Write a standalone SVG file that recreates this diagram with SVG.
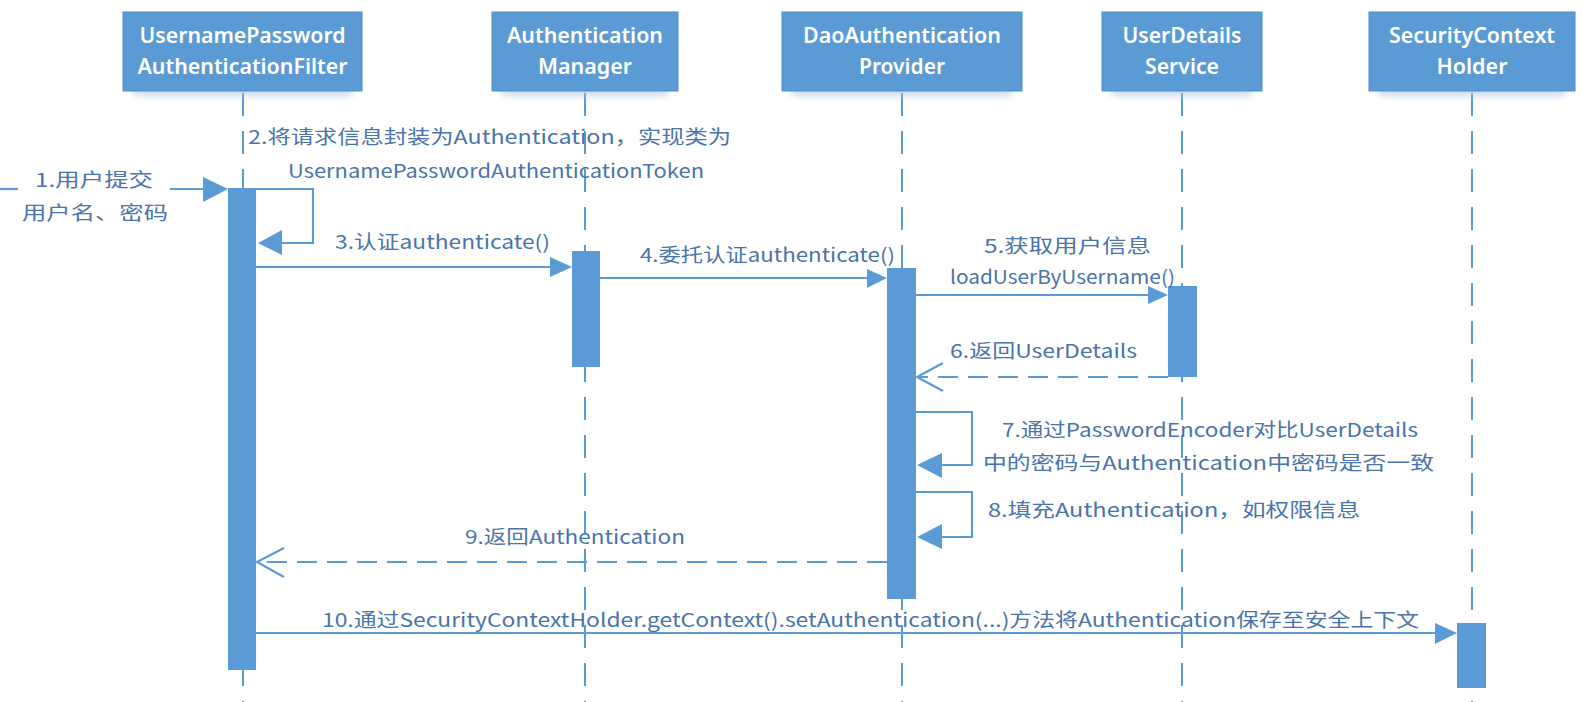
<svg xmlns="http://www.w3.org/2000/svg" width="1583" height="702" viewBox="0 0 1583 702">
<defs>
<style>
.box{fill:#5B9BD5;stroke:#4F8CC6;stroke-width:1}
.shadow{fill:#9DC3E6;opacity:0.55}
.hdr{font-family:"Noto Sans","Liberation Sans",sans-serif;font-size:21px;font-weight:600;fill:#ffffff;text-anchor:middle}
.life{stroke:#5B9BD5;stroke-width:2;stroke-dasharray:23 15;fill:none}
.bar{fill:#5B9BD5}
.ln{stroke:#5B9BD5;stroke-width:2.2;fill:none}
.ret{stroke:#5B9BD5;stroke-width:2.2;fill:none;stroke-dasharray:20 10}
.head{fill:#5B9BD5}
.open{stroke:#5B9BD5;stroke-width:2.2;fill:none}
.lbl{font-family:"Noto Sans CJK SC","Noto Sans",sans-serif;font-size:19px;fill:#4A74AA}
</style>
<filter id="blur" x="-20%" y="-50%" width="140%" height="200%">
<feGaussianBlur stdDeviation="3"/>
</filter>
</defs>
<rect width="1583" height="702" fill="#ffffff"/>

<g id="lifelines">
<line class="life" x1="243" y1="93" x2="243" y2="702"/>
<line class="life" x1="585" y1="93" x2="585" y2="702"/>
<line class="life" x1="902" y1="93" x2="902" y2="702"/>
<line class="life" x1="1182" y1="93" x2="1182" y2="702"/>
<line class="life" x1="1472" y1="93" x2="1472" y2="702"/>
</g>

<g id="node-filter">
<rect class="shadow" x="133" y="86" width="219" height="10" filter="url(#blur)"/>
<rect class="box" x="123" y="12" width="239" height="79"/>
<text class="hdr" x="242.5" y="43" textLength="206" lengthAdjust="spacingAndGlyphs">UsernamePassword</text>
<text class="hdr" x="242.5" y="74" textLength="210" lengthAdjust="spacingAndGlyphs">AuthenticationFilter</text>
<rect class="bar" x="228" y="188" width="28" height="482"/>
</g>

<g id="node-manager">
<rect class="shadow" x="502" y="86" width="166" height="10" filter="url(#blur)"/>
<rect class="box" x="492" y="12" width="186" height="79"/>
<text class="hdr" x="585" y="43" textLength="156" lengthAdjust="spacingAndGlyphs">Authentication</text>
<text class="hdr" x="585" y="74" textLength="94" lengthAdjust="spacingAndGlyphs">Manager</text>
<rect class="bar" x="572" y="251" width="28" height="116"/>
</g>

<g id="node-provider">
<rect class="shadow" x="792" y="86" width="220" height="10" filter="url(#blur)"/>
<rect class="box" x="782" y="12" width="240" height="79"/>
<text class="hdr" x="902" y="43" textLength="198" lengthAdjust="spacingAndGlyphs">DaoAuthentication</text>
<text class="hdr" x="902" y="74" textLength="86" lengthAdjust="spacingAndGlyphs">Provider</text>
<rect class="bar" x="887" y="268" width="29" height="331"/>
</g>

<g id="node-uds">
<rect class="shadow" x="1112" y="86" width="140" height="10" filter="url(#blur)"/>
<rect class="box" x="1102" y="12" width="160" height="79"/>
<text class="hdr" x="1182" y="43" textLength="119" lengthAdjust="spacingAndGlyphs">UserDetails</text>
<text class="hdr" x="1182" y="74" textLength="74" lengthAdjust="spacingAndGlyphs">Service</text>
<rect class="bar" x="1168" y="286" width="29" height="91"/>
</g>

<g id="node-sch">
<rect class="shadow" x="1379" y="86" width="186" height="10" filter="url(#blur)"/>
<rect class="box" x="1369" y="12" width="206" height="79"/>
<text class="hdr" x="1472" y="43" textLength="166" lengthAdjust="spacingAndGlyphs">SecurityContext</text>
<text class="hdr" x="1472" y="74" textLength="71" lengthAdjust="spacingAndGlyphs">Holder</text>
<rect class="bar" x="1457" y="623" width="29" height="65"/>
</g>

<g id="connectors">
<!-- 1 -->
<line class="ln" x1="0" y1="189" x2="18" y2="189"/>
<line class="ln" x1="170" y1="189" x2="205" y2="189"/>
<polygon class="head" points="203,177 228,189 203,202"/>
<!-- 2 self -->
<polyline class="ln" points="256,189 313,189 313,243 280,243"/>
<polygon class="head" points="258,243 282,230 282,255"/>
<!-- 3 -->
<line class="ln" x1="256" y1="267" x2="552" y2="267"/>
<polygon class="head" points="550,257 572,267 550,277"/>
<!-- 4 -->
<line class="ln" x1="600" y1="278" x2="869" y2="278"/>
<polygon class="head" points="867,269 887,278 867,288"/>
<!-- 5 -->
<line class="ln" x1="916" y1="295" x2="1150" y2="295"/>
<polygon class="head" points="1148,286 1168,295 1148,304"/>
<!-- 6 return -->
<line class="ret" x1="1168" y1="377" x2="918" y2="377"/>
<polyline class="open" points="943,363 917,377 943,391"/>
<!-- 7 self -->
<polyline class="ln" points="916,412 972,412 972,465 940,465"/>
<polygon class="head" points="917,465 942,453 942,478"/>
<!-- 8 self -->
<polyline class="ln" points="916,492 972,492 972,537 940,537"/>
<polygon class="head" points="917,537 942,524 942,549"/>
<!-- 9 return -->
<line class="ret" x1="887" y1="562" x2="258" y2="562"/>
<polyline class="open" points="284,548 257,562 284,577"/>
<!-- 10 -->
<line class="ln" x1="256" y1="633" x2="1437" y2="633"/>
<polygon class="head" points="1435,623 1457,633 1435,644"/>
</g>

<g id="labels">
<text class="lbl" x="35" y="187" textLength="118" lengthAdjust="spacingAndGlyphs">1.用户提交</text>
<text class="lbl" x="22" y="220" textLength="146" lengthAdjust="spacingAndGlyphs">用户名、密码</text>
<text class="lbl" x="248" y="144" textLength="483" lengthAdjust="spacingAndGlyphs">2.将请求信息封装为Authentication，实现类为</text>
<text class="lbl" x="288" y="178" textLength="416" lengthAdjust="spacingAndGlyphs">UsernamePasswordAuthenticationToken</text>
<text class="lbl" x="335" y="249" textLength="215" lengthAdjust="spacingAndGlyphs">3.认证authenticate()</text>
<text class="lbl" x="640" y="262" textLength="255" lengthAdjust="spacingAndGlyphs">4.委托认证authenticate()</text>
<text class="lbl" x="984" y="253" textLength="167" lengthAdjust="spacingAndGlyphs">5.获取用户信息</text>
<text class="lbl" x="950" y="284" textLength="225" lengthAdjust="spacingAndGlyphs">loadUserByUsername()</text>
<text class="lbl" x="950" y="358" textLength="187" lengthAdjust="spacingAndGlyphs">6.返回UserDetails</text>
<text class="lbl" x="1002" y="437" textLength="416" lengthAdjust="spacingAndGlyphs">7.通过PasswordEncoder对比UserDetails</text>
<text class="lbl" x="983" y="470" textLength="451" lengthAdjust="spacingAndGlyphs">中的密码与Authentication中密码是否一致</text>
<text class="lbl" x="988" y="517" textLength="372" lengthAdjust="spacingAndGlyphs">8.填充Authentication，如权限信息</text>
<text class="lbl" x="465" y="544" textLength="220" lengthAdjust="spacingAndGlyphs">9.返回Authentication</text>
<text class="lbl" x="322" y="627" textLength="1097" lengthAdjust="spacingAndGlyphs">10.通过SecurityContextHolder.getContext().setAuthentication(...)方法将Authentication保存至安全上下文</text>
</g>
</svg>
